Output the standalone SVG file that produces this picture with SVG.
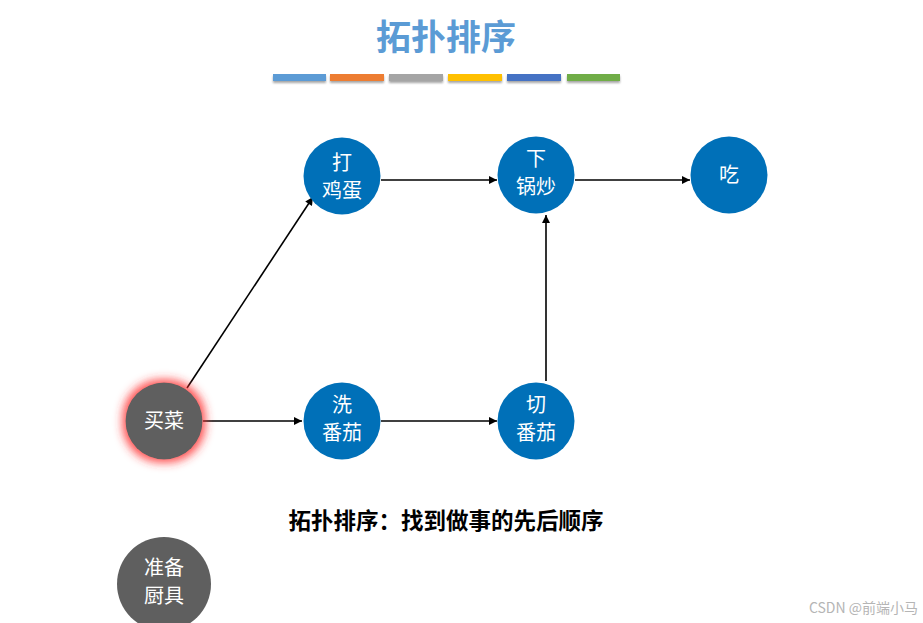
<svg xmlns="http://www.w3.org/2000/svg" width="923" height="623" viewBox="0 0 923 623">
<style>
.t{font-family:"Noto Sans CJK SC","Liberation Sans",sans-serif}
.nb{fill:#0070b8}
.ng{fill:#5f5f5f}
.nt{fill:#fff;font-size:20px;text-anchor:middle}
.c{stroke:#000;stroke-width:1.6;fill:none;marker-end:url(#ah)}
</style>
<defs>
<marker id="ah" viewBox="0 0 10 10" refX="10" refY="5" markerWidth="9" markerHeight="8" markerUnits="userSpaceOnUse" orient="auto"><path d="M0,0L10,5L0,10z" fill="#000"/></marker>
<filter id="glow" x="-60%" y="-60%" width="220%" height="220%"><feMorphology in="SourceAlpha" operator="dilate" radius="3" result="d"/><feFlood flood-color="#ff3030" flood-opacity="0.85"/><feComposite operator="in" in2="d"/><feGaussianBlur stdDeviation="5"/><feMerge><feMergeNode/><feMergeNode in="SourceGraphic"/></feMerge></filter>
<filter id="sh" x="-10%" y="-50%" width="120%" height="250%"><feDropShadow dx="0" dy="2" stdDeviation="1.2" flood-color="#000" flood-opacity="0.35"/></filter>
</defs>
<rect width="923" height="623" fill="#fff"/>
<text class="t" x="446" y="50" font-size="35" font-weight="bold" fill="#5b9bd5" text-anchor="middle">拓扑排序</text>
<g filter="url(#sh)">
<rect x="273" y="74" width="53" height="7" fill="#5b9bd5"/>
<rect x="330" y="74" width="54" height="7" fill="#ed7d31"/>
<rect x="389" y="74" width="54" height="7" fill="#a5a5a5"/>
<rect x="448" y="74" width="54" height="7" fill="#ffc000"/>
<rect x="507" y="74" width="54" height="7" fill="#4472c4"/>
<rect x="567" y="74" width="53" height="7" fill="#70ad47"/>
</g>
<g id="connectors">
<path class="c" d="M187,388L313,197"/>
<path class="c" d="M203,421L302,421"/>
<path class="c" d="M381,421L497,421"/>
<path class="c" d="M546,381L546,215"/>
<path class="c" d="M381,180L497,180"/>
<path class="c" d="M575,180L690,180"/>
</g>
<g id="n-dajidan"><circle class="nb" cx="342" cy="176" r="38.5"/><text class="t nt" x="342" y="170">打</text><text class="t nt" x="342" y="198">鸡蛋</text></g>
<g id="n-xiaguochao"><circle class="nb" cx="536" cy="175" r="38.5"/><text class="t nt" x="536" y="166">下</text><text class="t nt" x="536" y="194">锅炒</text></g>
<g id="n-chi"><circle class="nb" cx="729" cy="175" r="38.5"/><text class="t nt" x="729" y="182">吃</text></g>
<g id="n-maicai"><circle class="ng" cx="164" cy="421" r="38.5" filter="url(#glow)"/><text class="t nt" x="164" y="428">买菜</text></g>
<g id="n-xifanqie"><circle class="nb" cx="342" cy="421" r="38.5"/><text class="t nt" x="342" y="412">洗</text><text class="t nt" x="342" y="440">番茄</text></g>
<g id="n-qiefanqie"><circle class="nb" cx="536" cy="421" r="38.5"/><text class="t nt" x="536" y="412">切</text><text class="t nt" x="536" y="440">番茄</text></g>
<g id="n-zhunbei"><circle class="ng" cx="164" cy="584" r="47"/><text class="t nt" x="164" y="575">准备</text><text class="t nt" x="164" y="603">厨具</text></g>
<text class="t" x="446" y="529" font-size="22.5" font-weight="bold" fill="#000" text-anchor="middle">拓扑排序：找到做事的先后顺序</text>
<text class="t" x="918" y="613" font-size="14" fill="#b5b5b5" text-anchor="end">CSDN @前端小马</text>
</svg>
